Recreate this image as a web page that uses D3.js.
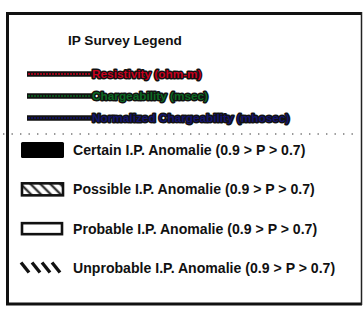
<!DOCTYPE html>
<html><head><meta charset="utf-8">
<script src="https://cdn.jsdelivr.net/npm/d3@7"></script>
<style>body{margin:0;background:#fff}svg{display:block}</style>
</head><body>
<script>
const title = "IP Survey Legend";
const lineLabels = ["Resistivity (ohm-m)", "Chargeability (msec)", "Normalized Chargeability (mhosec)"];
const lineColors = ["#c8001e", "#0b6a22", "#14146e"];
const patchLabels = ["Certain I.P. Anomalie (0.9 > P > 0.7)", "Possible I.P. Anomalie (0.9 > P > 0.7)", "Probable I.P. Anomalie (0.9 > P > 0.7)", "Unprobable I.P. Anomalie (0.9 > P > 0.7)"];
const patchTypes = ["solid", "hatched", "empty", "strokes"];

const W = 363, H = 311;
const svg = d3.select("body").append("svg").attr("width", W).attr("height", H);
const font = "'Liberation Sans', Arial, Helvetica, sans-serif";

// border
svg.append("line").attr("x1",7.5).attr("x2",7.5).attr("y1",12).attr("y2",305).attr("stroke","#111").attr("stroke-width",3);
svg.append("line").attr("x1",6).attr("x2",362).attr("y1",13.5).attr("y2",13.5).attr("stroke","#111").attr("stroke-width",3);
svg.append("line").attr("x1",6).attr("x2",362).attr("y1",304).attr("y2",304).attr("stroke","#111").attr("stroke-width",3);
svg.append("line").attr("x1",361.5).attr("x2",361.5).attr("y1",12).attr("y2",305).attr("stroke","#222").attr("stroke-width",1.5);

svg.append("text").attr("x",68).attr("y",45).attr("font-family",font).attr("font-weight","bold")
  .attr("font-size",13.6).attr("fill","#111").text(title);

const yLine = d3.scalePoint().domain(lineLabels).range([74, 118]);
const gl = svg.selectAll("g.li").data(lineLabels).join("g").attr("class","li");
gl.append("line").attr("x1",27).attr("x2",92).attr("y1",d=>yLine(d)).attr("y2",d=>yLine(d))
  .attr("stroke","#111").attr("stroke-width",5.5);
gl.append("line").attr("x1",28).attr("x2",91).attr("y1",d=>yLine(d)).attr("y2",d=>yLine(d))
  .attr("stroke",(d,i)=>lineColors[i]).attr("stroke-width",1.5).attr("stroke-dasharray","2,1");
gl.append("text").attr("x",92).attr("y",d=>yLine(d)).attr("dy","0.36em")
  .attr("font-family",font).attr("font-weight","bold").attr("font-size",11.8)
  .attr("fill",(d,i)=>lineColors[i]).attr("stroke","#111").attr("stroke-width",2.8)
  .attr("paint-order","stroke").attr("stroke-linejoin","round").text(d=>d);

// dotted separator
svg.append("line").attr("x1",3).attr("x2",360).attr("y1",134).attr("y2",134)
  .attr("stroke","#777").attr("stroke-width",1.6).attr("stroke-dasharray","1.4,7.1");

const yPatch = d3.scalePoint().domain(patchLabels).range([150, 268]);
const defs = svg.append("defs");
const pat = defs.append("pattern").attr("id","hatch").attr("patternUnits","userSpaceOnUse")
  .attr("width",7).attr("height",7).attr("patternTransform","rotate(45)");
pat.append("line").attr("x1",0).attr("x2",7).attr("y1",3.5).attr("y2",3.5).attr("stroke","#111").attr("stroke-width",2);

patchLabels.forEach((lab,i)=>{
  const y = yPatch(lab), t = patchTypes[i];
  if (t === "solid") {
    svg.append("rect").attr("x",21).attr("y",y-8).attr("width",43).attr("height",16).attr("rx",1.5).attr("fill","#000");
  } else if (t === "hatched") {
    svg.append("rect").attr("x",22).attr("y",y-6).attr("width",41).attr("height",12).attr("fill","url(#hatch)")
      .attr("stroke","#111").attr("stroke-width",2.6);
  } else if (t === "empty") {
    svg.append("rect").attr("x",22).attr("y",y-5.5).attr("width",40).attr("height",11).attr("fill","#fff")
      .attr("stroke","#111").attr("stroke-width",2.6);
  } else {
    [21, 32, 42, 52].forEach(x0=>{
      svg.append("line").attr("x1",x0).attr("x2",x0+8).attr("y1",y-5.5).attr("y2",y+4.5)
        .attr("stroke","#111").attr("stroke-width",3.4);
    });
  }
  svg.append("text").attr("x",73).attr("y",y).attr("dy","0.36em").attr("font-family",font)
    .attr("font-weight","bold").attr("font-size",14.1).attr("fill","#111").text(lab);
});
</script>
</body></html>
